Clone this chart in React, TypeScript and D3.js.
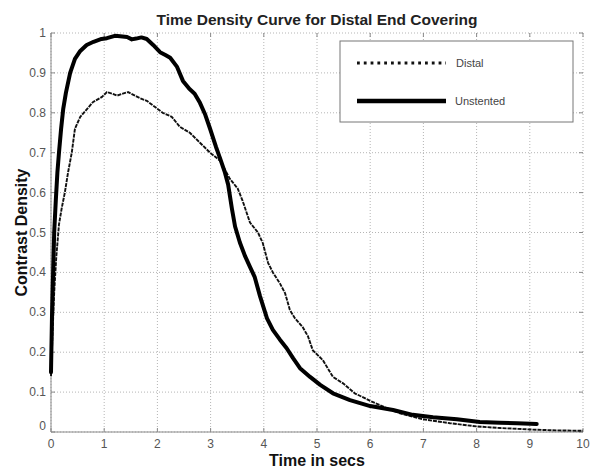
import React from "react";
import * as d3 from "d3";

const xTicks = [0, 1, 2, 3, 4, 5, 6, 7, 8, 9, 10];
const yTicks = [0, 0.1, 0.2, 0.3, 0.4, 0.5, 0.6, 0.7, 0.8, 0.9, 1];
const yTickLabels = ["0", "0.1", "0.2", "0.3", "0.4", "0.5", "0.6", "0.7", "0.8", "0.9", "1"];

const unstentedT = [0, 0.02, 0.04, 0.06, 0.09, 0.12, 0.15, 0.19, 0.23, 0.28, 0.36, 0.45, 0.55, 0.67, 0.8, 0.95, 1.05, 1.2, 1.3, 1.43, 1.52, 1.6, 1.7, 1.8, 1.92, 2.05, 2.15, 2.24, 2.37, 2.48, 2.6, 2.7, 2.8, 2.9, 2.99, 3.1, 3.18, 3.27, 3.33, 3.4, 3.46, 3.55, 3.65, 3.74, 3.83, 3.93, 4.06, 4.17, 4.3, 4.43, 4.55, 4.68, 4.87, 5.06, 5.3, 5.62, 6.0, 6.43, 6.8, 7.18, 7.63, 8.06, 8.44, 8.76, 9.13];
const unstentedV = [0.15, 0.3, 0.4, 0.5, 0.58, 0.65, 0.7, 0.76, 0.81, 0.85, 0.9, 0.935, 0.955, 0.97, 0.978, 0.985, 0.987, 0.993, 0.992, 0.99, 0.984, 0.986, 0.989, 0.985, 0.97, 0.952, 0.945, 0.938, 0.915, 0.88, 0.86, 0.848, 0.825, 0.795, 0.76, 0.715, 0.685, 0.65, 0.62, 0.56, 0.515, 0.475, 0.44, 0.414, 0.388, 0.34, 0.285, 0.256, 0.232, 0.21, 0.185, 0.16, 0.138, 0.118, 0.097, 0.08, 0.065, 0.055, 0.043, 0.037, 0.032, 0.025, 0.023, 0.022, 0.02];

const distalT = [0, 0.03, 0.06, 0.1, 0.15, 0.2, 0.26, 0.32, 0.39, 0.45, 0.55, 0.68, 0.79, 0.96, 1.05, 1.15, 1.24, 1.35, 1.45, 1.55, 1.67, 1.8, 1.95, 2.1, 2.27, 2.42, 2.61, 2.8, 2.99, 3.18, 3.36, 3.51, 3.6, 3.74, 3.89, 3.98, 4.08, 4.17, 4.3, 4.4, 4.49, 4.58, 4.73, 4.83, 4.92, 5.11, 5.3, 5.49, 5.71, 6.0, 6.31, 6.56, 6.99, 7.5, 8.0, 8.44, 9.06, 9.5, 10.0];
const distalV = [0.14, 0.25, 0.35, 0.44, 0.52, 0.56, 0.6, 0.65, 0.7, 0.76, 0.79, 0.81, 0.827, 0.84, 0.852, 0.848, 0.843, 0.848, 0.852, 0.845, 0.837, 0.83, 0.815, 0.8, 0.79, 0.765, 0.75, 0.725, 0.7, 0.68, 0.635, 0.61, 0.58, 0.525, 0.5, 0.474, 0.424, 0.4, 0.373, 0.348, 0.306, 0.286, 0.263, 0.24, 0.205, 0.18, 0.138, 0.122, 0.097, 0.078, 0.06, 0.047, 0.032, 0.022, 0.014, 0.01, 0.006, 0.004, 0.003];

const seriesNames = ["Distal", "Unstented"];

const W = 602, H = 473;
const L = 51, R = 583, T = 33, B = 432;
const FONT = "'Liberation Sans', Arial, sans-serif";

export default function App() {
  const x = d3.scaleLinear().domain([0, 10]).range([L, R]);
  const y = d3.scaleLinear().domain([0, 1]).range([B, T]);
  const line = d3.line<[number, number]>().x(d => x(d[0])).y(d => y(d[1])).curve(d3.curveLinear);
  const unstented = unstentedT.map((t, i) => [t, unstentedV[i]] as [number, number]);
  const distal = distalT.map((t, i) => [t, distalV[i]] as [number, number]);
  const gridColor = "#b5b5b5";
  const axisColor = "#8a8a8a";
  return (
    <svg width={W} height={H} style={{ position: "absolute", left: 0, top: 0, background: "#fff" }}>
      <rect x={0} y={0} width={W} height={H} fill="#fff" />
      {xTicks.map(t => (
        <line key={"gx" + t} x1={x(t)} x2={x(t)} y1={T} y2={B} stroke={gridColor} strokeWidth={1} strokeDasharray="1,2" />
      ))}
      {yTicks.map(t => (
        <line key={"gy" + t} x1={L} x2={R} y1={y(t)} y2={y(t)} stroke={gridColor} strokeWidth={1} strokeDasharray="1,2" />
      ))}
      {xTicks.map(t => (
        <g key={"tx" + t}>
          <line x1={x(t)} x2={x(t)} y1={B} y2={B - 4} stroke={axisColor} />
          <line x1={x(t)} x2={x(t)} y1={T} y2={T + 4} stroke={axisColor} />
        </g>
      ))}
      {yTicks.map(t => (
        <g key={"ty" + t}>
          <line x1={L} x2={L + 4} y1={y(t)} y2={y(t)} stroke={axisColor} />
          <line x1={R} x2={R - 4} y1={y(t)} y2={y(t)} stroke={axisColor} />
        </g>
      ))}
      <line x1={L} x2={L} y1={T} y2={B} stroke={axisColor} strokeWidth={1} />
      <line x1={L} x2={R} y1={B} y2={B} stroke={axisColor} strokeWidth={1} />
      {xTicks.map(t => (
        <text key={"lx" + t} x={x(t)} y={B + 16} textAnchor="middle" fontFamily={FONT} fontSize={12} fill="#555">{t}</text>
      ))}
      {yTicks.map((t, i) => (
        <text key={"ly" + t} x={L - 5} y={y(t) + (i === 0 ? -2 : 4)} textAnchor="end" fontFamily={FONT} fontSize={12} fill="#555">{yTickLabels[i]}</text>
      ))}
      <path d={line(distal) || ""} fill="none" stroke="#111" strokeWidth={1.9} strokeDasharray="4,1" strokeLinejoin="round" />
      <path d={line(unstented) || ""} fill="none" stroke="#000" strokeWidth={4} strokeLinejoin="round" strokeLinecap="round" />
      <rect x={340} y={41} width={233} height={81} fill="#fff" stroke="#777" strokeWidth={1} />
      <line x1={357} x2={446} y1={63} y2={63} stroke="#111" strokeWidth={2.8} strokeDasharray="2.8,4" />
      <text x={456} y={67} fontFamily={FONT} fontSize={11} fill="#444">{seriesNames[0]}</text>
      <line x1={357} x2={446} y1={101} y2={101} stroke="#000" strokeWidth={4.5} />
      <text x={455} y={105} fontFamily={FONT} fontSize={11} fill="#444">{seriesNames[1]}</text>
      <text x={317} y={25} textAnchor="middle" fontFamily={FONT} fontSize={15.5} fontWeight="bold" fill="#222">Time Density Curve for Distal End Covering</text>
      <text x={317} y={466} textAnchor="middle" fontFamily={FONT} fontSize={16} fontWeight="bold" fill="#111">Time in secs</text>
      <text transform={`translate(27,${(T + B) / 2}) rotate(-90)`} textAnchor="middle" fontFamily={FONT} fontSize={16} fontWeight="bold" fill="#111">Contrast Density</text>
    </svg>
  );
}
